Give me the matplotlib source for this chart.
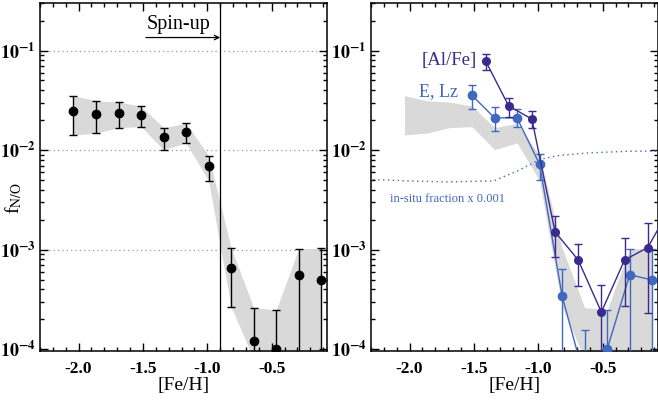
import numpy as np
import matplotlib
matplotlib.use("Agg")
from matplotlib import pyplot as plt
from matplotlib.ticker import FixedLocator, FuncFormatter, MultipleLocator

plt.rcParams['font.family'] = ['Liberation Serif', 'DejaVu Serif']
plt.rcParams['mathtext.fontset'] = 'stix'
plt.rcParams['axes.unicode_minus'] = False

# binned N/O fraction vs metallicity (all stars)
feh = np.array([-2.04, -1.865, -1.69, -1.515, -1.34, -1.165, -0.99, -0.815, -0.64, -0.465, -0.29, -0.115])
fno = np.array([0.0247, 0.0229, 0.0234, 0.0223, 0.0134, 0.0153, 0.0069, 0.000655, 0.000121, 0.0001, 0.000556, 0.000492])
fno_hi = np.array([0.0352, 0.0313, 0.0303, 0.0277, 0.0168, 0.0186, 0.0088, 0.00104, 0.000262, 0.000248, 0.00102, 0.00103])
fno_lo = np.array([0.0142, 0.0148, 0.0168, 0.0172, 0.0101, 0.0118, 0.00494, 0.000266, 0.00008, 0.00005, 0.00005, 0.00005])

# E, Lz selection (same bins from -1.5 up)
elz_feh = feh[3:]
elz = np.array([0.0354, 0.0211, 0.021, 0.0072, 0.000343, 0.00005, 0.0001, 0.00056, 0.000496])
elz_hi = np.array([0.0453, 0.027, 0.0258, 0.00923, 0.000634, 0.000155, 0.00025, 0.00102, 0.00102])
elz_lo = np.array([0.026, 0.0154, 0.0169, 0.00498, 0.00002, 0.000001, 0.00002, 0.00002, 0.00002])

# [Al/Fe] selection
alfe_feh = np.array([-1.41, -1.23, -1.05, -0.87, -0.69, -0.51, -0.33, -0.15, 0.03])
alfe = np.array([0.0788, 0.0277, 0.0205, 0.00151, 0.000787, 0.000236, 0.000787, 0.00105, 0.0027])
alfe_hi = np.array([0.0933, 0.0336, 0.0247, 0.0022, 0.00115, 0.000445, 0.0013, 0.00187, 0.0035])
alfe_lo = np.array([0.064, 0.0216, 0.0167, 0.000843, 0.000432, 0.00002, 0.000272, 0.00023, 0.0019])

# in-situ fraction (scaled by 0.001)
insitu_feh = [-2.282, -1.997, -1.711, -1.348, -1.166, -0.985, -0.829, -0.621, -0.31, -0.077]
insitu = [0.00506, 0.0049, 0.00479, 0.0049, 0.00614, 0.00809, 0.00887, 0.00935, 0.00973, 0.00977]

spinup_feh = -0.9

AL_COLOR = '#3a2a8e'
ELZ_COLOR = '#3f69bf'
BAND = '#d9d9d9'


def logfmt(v, pos):
    return r'$\mathbf{10^{%d}}$' % int(round(np.log10(v)))


def style_axes(ax):
    ax.set_yscale('log')
    ax.set_xlim(-2.3, -0.07)
    ax.set_ylim(9.6e-5, 0.3)
    ax.xaxis.set_minor_locator(MultipleLocator(0.1))
    ax.set_xticks([-2.0, -1.5, -1.0, -0.5])
    ax.set_xticklabels(['-2.0', '-1.5', '-1.0', '-0.5'], fontweight='bold')
    ax.yaxis.set_major_locator(FixedLocator([1e-4, 1e-3, 1e-2, 1e-1]))
    ax.yaxis.set_major_formatter(FuncFormatter(logfmt))
    ax.tick_params(which='both', direction='in', top=True, right=True, width=1)
    ax.tick_params(which='major', length=6)
    ax.tick_params(which='minor', length=3)
    ax.tick_params(axis='x', labelsize=12.5, pad=7)
    ax.tick_params(axis='y', labelsize=13, pad=3)
    for s in ax.spines.values():
        s.set_linewidth(1.1)
    ax.set_xlabel('[Fe/H]', fontsize=14, labelpad=0)


def band(ax):
    ax.fill_between(feh, fno_lo, fno_hi, color=BAND, lw=0, zorder=1)


fig = plt.figure(figsize=(6.58, 4.03), dpi=100)
ax1 = fig.add_axes([40/658, 52/403, 287/658, 348/403])
ax2 = fig.add_axes([371/658, 52/403, 287/658, 348/403])

# left: all stars
band(ax1)
for yl in [1e-1, 1e-2, 1e-3]:
    ax1.axhline(yl, color='#999999', lw=0.9, ls=(0, (1, 2.5)), zorder=0)
ax1.axvline(spinup_feh, color='k', lw=0.9, zorder=2)
ax1.errorbar(feh, fno, yerr=[fno - fno_lo, fno_hi - fno], fmt='o', color='k',
             ms=6, elinewidth=1, capsize=3, capthick=1, zorder=3)
ax1.annotate('', xy=(spinup_feh, 0.135), xytext=(-1.477, 0.135),
             arrowprops=dict(arrowstyle='->', lw=0.9, color='k', shrinkA=0, shrinkB=0,
                             mutation_scale=8))
ax1.text(-1.226, 0.182, 'Spin-up', fontsize=14.5, ha='center', va='center')
style_axes(ax1)
ax1.set_ylabel(r'f$_{\rm N/O}$', fontsize=14)
ax1.yaxis.set_label_coords(-0.055, 0.44)

# right: chemical and dynamical selections
band(ax2)
ax2.plot(insitu_feh, insitu, color=ELZ_COLOR, lw=1, ls=(0, (1, 2.5)), zorder=2)
ax2.errorbar(elz_feh, elz, yerr=[elz - elz_lo, elz_hi - elz], fmt='o-', color=ELZ_COLOR,
             ms=6, lw=1, elinewidth=1, capsize=3, capthick=1, zorder=3)
ax2.errorbar(alfe_feh, alfe, yerr=[alfe - alfe_lo, alfe_hi - alfe], fmt='o-', color=AL_COLOR,
             ms=5.5, lw=1, elinewidth=1, capsize=3, capthick=1, zorder=4)
ax2.text(-1.475, 0.079, '[Al/Fe]', color=AL_COLOR, fontsize=13.5, ha='right', va='center')
ax2.text(-1.623, 0.0388, 'E, Lz', color=ELZ_COLOR, fontsize=13, ha='right', va='center')
ax2.text(-2.152, 0.00321, 'in-situ fraction x 0.001', color=ELZ_COLOR, fontsize=9,
         ha='left', va='center')
style_axes(ax2)

fig.savefig('out.png', dpi=100)
